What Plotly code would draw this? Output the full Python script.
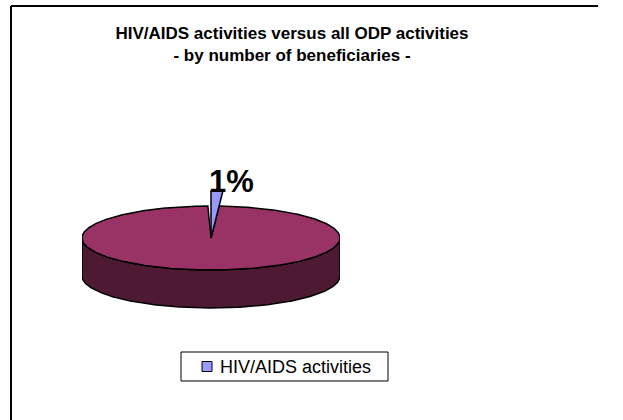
import numpy as np
import plotly.graph_objects as go

# Share of beneficiaries (percent) by type of activity
categories = ["HIV/AIDS activities", "Other ODP activities"]
beneficiaries = [1, 99]
slice_colors = ["#9999FF", "#993366"]
side_colors = ["#4D4D80", "#4D1933"]
show_in_legend = [True, False]
show_label = [True, False]

W, H = 623, 420
FONT = "Liberation Sans, Arial"
# Pie geometry (pixels / relative units)
CX, CY, RX = 211, 238, 129
TILT = 32 / 129      # vertical squash of the top face
DEPTH = 38 / 129     # thickness of the disc
PULL = 1.47          # pulled-out slice radius
GAP = 1.4            # degrees of gap left behind the pulled slice
OUTLINE = dict(color="black", width=1.5)


def pt(theta_deg, r=1.0, dz=0.0):
    t = np.radians(theta_deg)
    return r * np.sin(t), TILT * r * np.cos(t) - dz


def arc(a0, a1, r=1.0, dz=0.0, n=None):
    n = n or max(2, int(abs(a1 - a0) * 2) + 2)
    th = np.linspace(a0, a1, n)
    xs, ys = pt(th, r, dz)
    return list(xs), list(ys)


total = sum(beneficiaries)
pcts = [v / total * 100 for v in beneficiaries]
starts = np.concatenate([[0], np.cumsum(pcts)[:-1]]) * 3.6
ends = np.cumsum(pcts) * 3.6

fig = go.Figure()

# Side walls (only the front half of the disc is visible)
for i in range(len(categories)):
    a0, a1 = max(starts[i], 90), min(ends[i], 270)
    if a1 <= a0:
        continue
    tx, ty = arc(a0, a1)
    bx, by = arc(a1, a0, dz=DEPTH)
    fig.add_trace(go.Scatter(
        x=tx + bx + [tx[0]], y=ty + by + [ty[0]], mode="lines",
        fill="toself", fillcolor=side_colors[i], line=OUTLINE,
        showlegend=False, hoverinfo="skip"))

# Top faces: regular slices first, pulled slice on top
pulled = [pcts[i] < 5 for i in range(len(categories))]
order = [i for i in range(len(categories)) if not pulled[i]] + \
        [i for i in range(len(categories)) if pulled[i]]
for i in order:
    if pulled[i]:
        ax, ay = arc(starts[i], ends[i], r=PULL, n=6)
    else:
        ax, ay = arc(starts[i], ends[i] - GAP)
    fig.add_trace(go.Scatter(
        x=[0] + ax + [0], y=[0] + ay + [0], mode="lines",
        fill="toself", fillcolor=slice_colors[i], line=OUTLINE,
        showlegend=False, hoverinfo="skip", name=categories[i]))

# Percentage labels
for i in range(len(categories)):
    if show_label[i]:
        r = PULL if pulled[i] else 1.0
        lx, ly = pt(starts[i], r)
        fig.add_annotation(
            x=lx, y=ly, text=f"{pcts[i]:.0f}%", showarrow=False,
            xanchor="left", yanchor="bottom", xshift=-4, yshift=-10,
            font=dict(family=FONT, size=31, color="black", weight="bold"))

# Legend box (pixel layout converted to paper units)
LEG_X0, LEG_X1, LEG_Y0, LEG_Y1 = 181, 388, 352, 381
SW = 10   # swatch size
FRAME_X, FRAME_Y = 11, 6
shapes = [
    # chart frame: left and top edges
    dict(type="line", xref="paper", yref="paper",
         x0=FRAME_X / W, x1=FRAME_X / W, y0=0, y1=1 - FRAME_Y / H,
         line=dict(color="black", width=2)),
    dict(type="line", xref="paper", yref="paper",
         x0=FRAME_X / W, x1=0.96, y0=1 - FRAME_Y / H, y1=1 - FRAME_Y / H,
         line=dict(color="black", width=2)),
    dict(type="rect", xref="paper", yref="paper",
         x0=LEG_X0 / W, x1=LEG_X1 / W, y0=1 - LEG_Y1 / H, y1=1 - LEG_Y0 / H,
         line=dict(color="black", width=1), fillcolor="white"),
]
ly_mid = (LEG_Y0 + LEG_Y1) / 2
for i in range(len(categories)):
    if show_in_legend[i]:
        shapes.append(dict(
            type="rect", xref="paper", yref="paper",
            x0=202 / W, x1=(202 + SW) / W,
            y0=1 - (ly_mid + SW / 2) / H, y1=1 - (ly_mid - SW / 2) / H,
            line=dict(color="black", width=1), fillcolor=slice_colors[i]))
        fig.add_annotation(
            xref="paper", yref="paper", x=218 / W, y=1 - ly_mid / H,
            xanchor="left", yanchor="middle", showarrow=False,
            text=categories[i],
            font=dict(family=FONT, size=18, color="black"))

fig.update_layout(
    width=W, height=H,
    margin=dict(l=0, r=0, t=0, b=0),
    paper_bgcolor="white", plot_bgcolor="white",
    title=dict(
        text="HIV/AIDS activities versus all ODP activities<br>"
             "- by number of beneficiaries -",
        x=292 / W, xanchor="center", y=1 - 39 / H, yanchor="top",
        font=dict(family=FONT, size=17, color="black", weight="bold")),
    xaxis=dict(visible=False, range=[-1, 1],
               domain=[(CX - RX) / W, (CX + RX) / W], fixedrange=True),
    yaxis=dict(visible=False, range=[-(H - CY) / RX, CY / RX],
               domain=[0, 1], fixedrange=True),
    showlegend=False,
    shapes=shapes,
)

fig.write_html("out.html", config={"displayModeBar": False})
